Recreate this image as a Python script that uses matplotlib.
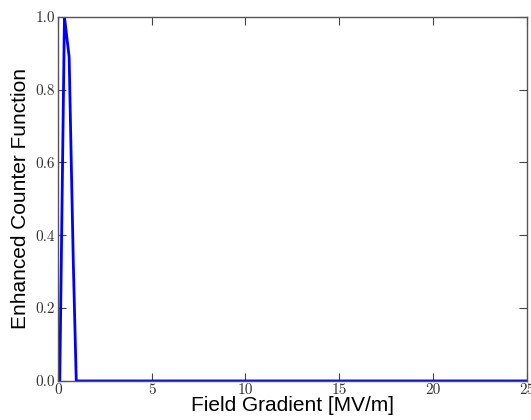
import matplotlib
matplotlib.use("Agg")
import matplotlib.pyplot as plt
from matplotlib.ticker import FormatStrFormatter, MultipleLocator

plt.rcParams['font.family'] = ['Liberation Sans', 'DejaVu Sans']

# field gradient [MV/m] and enhanced counter function
field = [0.1, 0.35, 0.6, 0.82, 0.98, 5, 10, 15, 20, 25]
ecf = [0.0, 1.0, 0.89, 0.33, 0.0, 0.0, 0.0, 0.0, 0.0, 0.0]

fig = plt.figure(figsize=(5.31, 4.2), dpi=100)
ax = fig.add_axes([0.109, 0.093, 0.883, 0.867])
ax.plot(field, ecf, color='blue', linewidth=2)

ax.set_xlim(0, 25)
ax.set_ylim(0, 1.0)
ax.xaxis.set_major_locator(MultipleLocator(5))
ax.yaxis.set_major_locator(MultipleLocator(0.2))
ax.xaxis.set_major_formatter(FormatStrFormatter('%d'))
ax.yaxis.set_major_formatter(FormatStrFormatter('%.1f'))
ax.tick_params(direction='in', top=True, right=True, labelsize=11,
               length=6, color='#444444', labelcolor='#333333', pad=2)
for lab in ax.get_xticklabels() + ax.get_yticklabels():
    lab.set_fontfamily('cmr10')
for s in ax.spines.values():
    s.set_color('#555555')
    s.set_linewidth(1.0)

ax.set_xlabel('Field Gradient [MV/m]', fontsize=15, labelpad=-1)
ax.set_ylabel('Enhanced Counter Function', fontsize=15, labelpad=4)

fig.savefig('out.png', dpi=100)
